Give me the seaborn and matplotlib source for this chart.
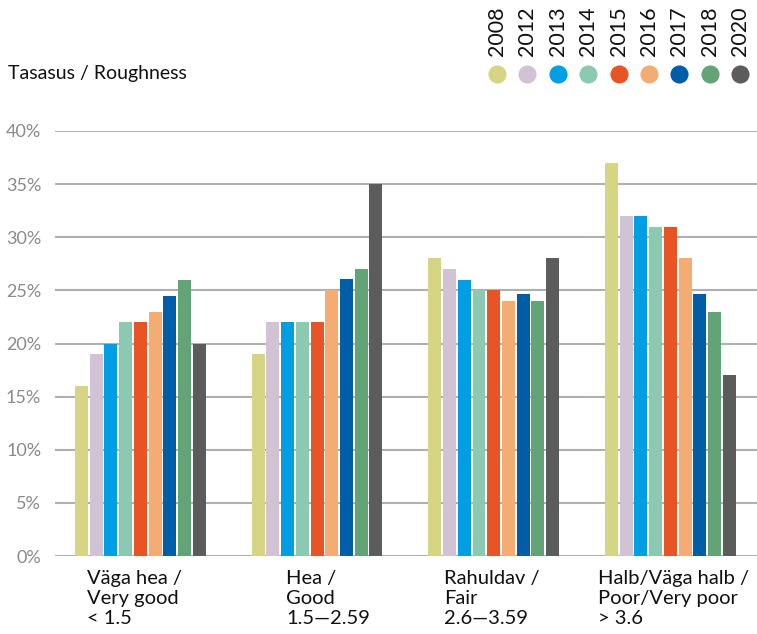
import matplotlib
matplotlib.use("Agg")
import matplotlib.pyplot as plt
import seaborn as sns
import pandas as pd

categories = ["Väga hea /\nVery good\n< 1.5", "Hea /\nGood\n1.5—2.59",
              "Rahuldav /\nFair\n2.6—3.59", "Halb/Väga halb /\nPoor/Very poor\n> 3.6"]
years = ["2008", "2012", "2013", "2014", "2015", "2016", "2017", "2018", "2020"]
values = {
    "2008": [16, 19, 28, 37],
    "2012": [19, 22, 27, 32],
    "2013": [20, 22, 26, 32],
    "2014": [22, 22, 25, 31],
    "2015": [22, 22, 25, 31],
    "2016": [23, 25, 24, 28],
    "2017": [24.5, 26.1, 24.7, 24.7],
    "2018": [26, 27, 24, 23],
    "2020": [20, 35, 28, 17],
}
colors = ["#D6D584", "#D1C3D3", "#009FE3", "#8BCAB0", "#E85424",
          "#F4AC72", "#005EA8", "#62A475", "#5C5C5C"]
yticks = [0, 5, 10, 15, 20, 25, 30, 35, 40]

rows = []
for y in years:
    for c, v in zip(categories, values[y]):
        rows.append({"cat": c, "year": y, "val": v})
df = pd.DataFrame(rows)

sns.set_style("white")
plt.rcParams["font.family"] = ["Lato", "DejaVu Sans"]

fig = plt.figure(figsize=(7.57, 6.34), dpi=100)
ax = fig.add_axes([0.0727, 0.123, 0.9273, 0.6704])

sns.barplot(data=df, x="cat", y="val", hue="year", hue_order=years,
            palette=colors, width=0.75, gap=0.12, ax=ax, legend=False,
            saturation=1, linewidth=0, zorder=3)

ax.set_ylim(0, 40)
ax.set_xlim(-0.483, 3.49)
ax.set_yticks(yticks)
ax.set_yticklabels([f"{t}%" for t in yticks], color="#8a8a8a", fontsize=13)
ax.tick_params(axis="y", length=0, pad=10)
ax.set_xticks([])
ax.set_xlabel("")
ax.set_ylabel("")
for s in ax.spines.values():
    s.set_visible(False)
ax.yaxis.grid(True, color="#b0b0b0", linewidth=1.5, zorder=0)
ax.set_axisbelow(True)

# category labels
offsets = [-0.30, -0.175, -0.28, -0.41]
for i, (c, o) in enumerate(zip(categories, offsets)):
    ax.text(i + o, -0.033, c, transform=ax.get_xaxis_transform(),
            ha="left", va="top", fontsize=14.5, color="#111111",
            linespacing=1.22)

fig.text(8 / 757, 1 - 74 / 634, "Tasasus / Roughness", ha="left", va="center",
         fontsize=14, color="#111111")

# legend
x0 = 497
dx = 30.4
for i, (y, col) in enumerate(zip(years, colors)):
    xf = (x0 + i * dx) / 757
    fig.text(xf, 1 - 56 / 634, y, rotation=90, ha="center", va="bottom",
             fontsize=15.5, color="#111111")
    ax.scatter([xf], [1 - 74 / 634], s=170, color=col, transform=fig.transFigure,
               clip_on=False, linewidths=0)

fig.savefig("out.png", dpi=100)
